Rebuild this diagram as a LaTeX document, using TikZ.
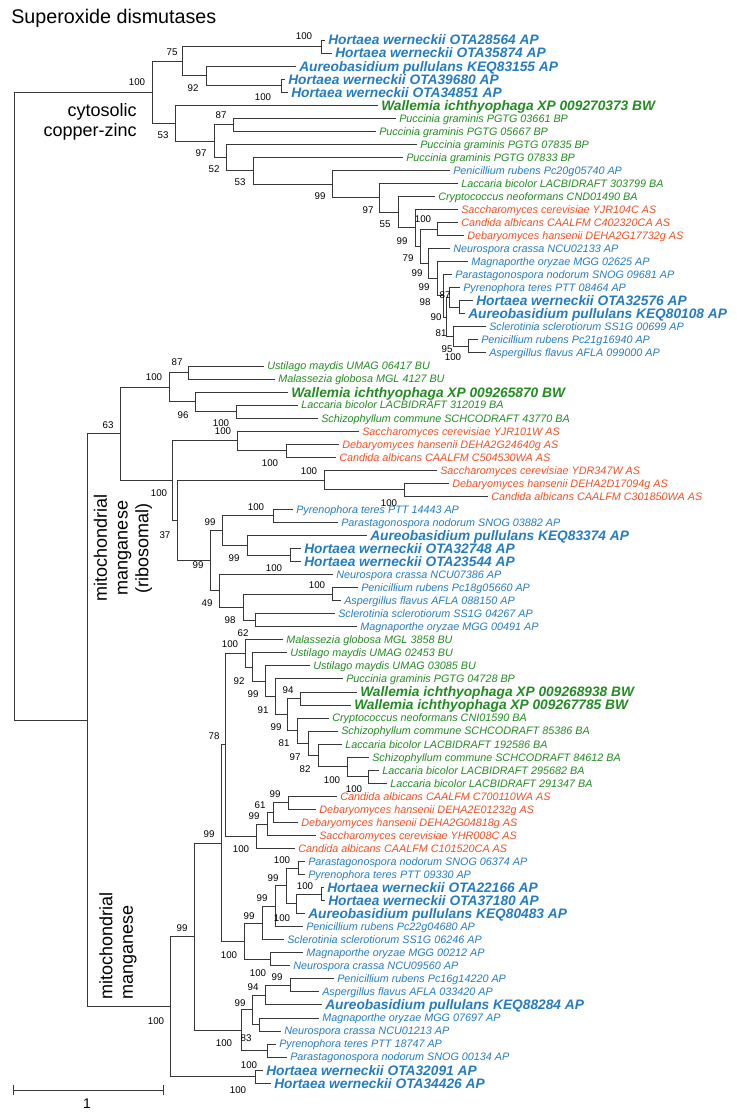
\documentclass[tikz,border=0pt]{standalone}
\usepackage{fontspec}
\setmainfont{Liberation Sans}
\usetikzlibrary{calc}
\definecolor{cb}{RGB}{36,124,192}
\definecolor{cg}{RGB}{34,139,34}
\definecolor{cr}{RGB}{238,80,36}
\definecolor{tl}{RGB}{55,55,55}
\tikzset{
 br/.style={draw=tl, line width=0.75pt, line cap=rect},
 lab/.style={anchor=west, inner sep=0pt, text depth=0pt},
 tB/.style={lab, text=cb, text height=5.8pt, font=\fontsize{8.1}{9}\selectfont\itshape},
 tBB/.style={lab, text=cb, text height=7.4pt, font=\fontsize{10.3}{11}\selectfont\bfseries\itshape},
 tG/.style={lab, text=cg, text height=5.8pt, font=\fontsize{8.1}{9}\selectfont\itshape},
 tGB/.style={lab, text=cg, text height=7.4pt, font=\fontsize{10.3}{11}\selectfont\bfseries\itshape},
 tR/.style={lab, text=cr, text height=5.8pt, font=\fontsize{8.1}{9}\selectfont\itshape},
 bsl/.style={inner sep=0pt, font=\fontsize{7.3}{8}\selectfont},
 side/.style={inner sep=0pt, font=\fontsize{13.5}{15.5}\selectfont}
}
\newcommand{\lf}[5]{\coordinate (#1) at (#3,{40+13.04*(#2-1)}); \node[#4] (#1t) at (#3+4,{40+13.04*(#2-1)}) {#5};}
\newcommand{\nd}[4]{\path let \p1=(#3), \p2=(#4) in coordinate (#1) at ({#2*0.75pt},{0.5*(\y1+\y2)}); \draw[br] (#1) |- (#3); \draw[br] (#1) |- (#4);}
\newcommand{\bt}[4]{\node[bsl] (#1) at (#2,#3) {#4};}
\begin{document}
\begin{tikzpicture}[x=0.75pt,y=-0.75pt]
\useasboundingbox (0,0) rectangle (737,1114);
\node[anchor=base west, inner sep=0pt, font=\fontsize{14.8}{16}\selectfont] (title) at (11,23) {Superoxide dismutases};
% leaves
\lf{L1}{1}{324}{tBB}{Hortaea werneckii OTA28564 AP}
\lf{L2}{2}{331}{tBB}{Hortaea werneckii OTA35874 AP}
\lf{L3}{3}{295}{tBB}{Aureobasidium pullulans KEQ83155 AP}
\lf{L4}{4}{284}{tBB}{Hortaea werneckii OTA39680 AP}
\lf{L5}{5}{287}{tBB}{Hortaea werneckii OTA34851 AP}
\lf{L6}{6}{377}{tGB}{Wallemia ichthyophaga XP 009270373 BW}
\lf{L7}{7}{395}{tG}{Puccinia graminis PGTG 03661 BP}
\lf{L8}{8}{375}{tG}{Puccinia graminis PGTG 05667 BP}
\lf{L9}{9}{416}{tG}{Puccinia graminis PGTG 07835 BP}
\lf{L10}{10}{402}{tG}{Puccinia graminis PGTG 07833 BP}
\lf{L11}{11}{449}{tB}{Penicillium rubens Pc20g05740 AP}
\lf{L12}{12}{457}{tG}{Laccaria bicolor LACBIDRAFT 303799 BA}
\lf{L13}{13}{434}{tG}{Cryptococcus neoformans CND01490 BA}
\lf{L14}{14}{457}{tR}{Saccharomyces cerevisiae YJR104C AS}
\lf{L15}{15}{457}{tR}{Candida albicans CAALFM C402320CA AS}
\lf{L16}{16}{463}{tR}{Debaryomyces hansenii DEHA2G17732g AS}
\lf{L17}{17}{449}{tB}{Neurospora crassa NCU02133 AP}
\lf{L18}{18}{467}{tB}{Magnaporthe oryzae MGG 02625 AP}
\lf{L19}{19}{451}{tB}{Parastagonospora nodorum SNOG 09681 AP}
\lf{L20}{20}{459}{tB}{Pyrenophora teres PTT 08464 AP}
\lf{L21}{21}{472}{tBB}{Hortaea werneckii OTA32576 AP}
\lf{L22}{22}{464}{tBB}{Aureobasidium pullulans KEQ80108 AP}
\lf{L23}{23}{485}{tB}{Sclerotinia sclerotiorum SS1G 00699 AP}
\lf{L24}{24}{477}{tB}{Penicillium rubens Pc21g16940 AP}
\lf{L25}{25}{485}{tB}{Aspergillus flavus AFLA 099000 AP}
\lf{L26}{26}{263}{tG}{Ustilago maydis UMAG 06417 BU}
\lf{L27}{27}{274}{tG}{Malassezia globosa MGL 4127 BU}
\lf{L28}{28}{287}{tGB}{Wallemia ichthyophaga XP 009265870 BW}
\lf{L29}{29}{297}{tG}{Laccaria bicolor LACBIDRAFT 312019 BA}
\lf{L30}{30}{317}{tG}{Schizophyllum commune SCHCODRAFT 43770 BA}
\lf{L31}{31}{358}{tR}{Saccharomyces cerevisiae YJR101W AS}
\lf{L32}{32}{338}{tR}{Debaryomyces hansenii DEHA2G24640g AS}
\lf{L33}{33}{335}{tR}{Candida albicans CAALFM C504530WA AS}
\lf{L34}{34}{436}{tR}{Saccharomyces cerevisiae YDR347W AS}
\lf{L35}{35}{448}{tR}{Debaryomyces hansenii DEHA2D17094g AS}
\lf{L36}{36}{487}{tR}{Candida albicans CAALFM C301850WA AS}
\lf{L37}{37}{292}{tB}{Pyrenophora teres PTT 14443 AP}
\lf{L38}{38}{337}{tB}{Parastagonospora nodorum SNOG 03882 AP}
\lf{L39}{39}{366}{tBB}{Aureobasidium pullulans KEQ83374 AP}
\lf{L40}{40}{300}{tBB}{Hortaea werneckii OTA32748 AP}
\lf{L41}{41}{300}{tBB}{Hortaea werneckii OTA23544 AP}
\lf{L42}{42}{332}{tB}{Neurospora crassa NCU07386 AP}
\lf{L43}{43}{357}{tB}{Penicillium rubens Pc18g05660 AP}
\lf{L44}{44}{340}{tB}{Aspergillus flavus AFLA 088150 AP}
\lf{L45}{45}{334}{tB}{Sclerotinia sclerotiorum SS1G 04267 AP}
\lf{L46}{46}{356}{tB}{Magnaporthe oryzae MGG 00491 AP}
\lf{L47}{47}{282}{tG}{Malassezia globosa MGL 3858 BU}
\lf{L48}{48}{286}{tG}{Ustilago maydis UMAG 02453 BU}
\lf{L49}{49}{309}{tG}{Ustilago maydis UMAG 03085 BU}
\lf{L50}{50}{342}{tG}{Puccinia graminis PGTG 04728 BP}
\lf{L51}{51}{356}{tGB}{Wallemia ichthyophaga XP 009268938 BW}
\lf{L52}{52}{350}{tGB}{Wallemia ichthyophaga XP 009267785 BW}
\lf{L53}{53}{328}{tG}{Cryptococcus neoformans CNI01590 BA}
\lf{L54}{54}{337}{tG}{Schizophyllum commune SCHCODRAFT 85386 BA}
\lf{L55}{55}{341}{tG}{Laccaria bicolor LACBIDRAFT 192586 BA}
\lf{L56}{56}{368}{tG}{Schizophyllum commune SCHCODRAFT 84612 BA}
\lf{L57}{57}{378}{tG}{Laccaria bicolor LACBIDRAFT 295682 BA}
\lf{L58}{58}{386}{tG}{Laccaria bicolor LACBIDRAFT 291347 BA}
\lf{L59}{59}{336}{tR}{Candida albicans CAALFM C700110WA AS}
\lf{L60}{60}{315}{tR}{Debaryomyces hansenii DEHA2E01232g AS}
\lf{L61}{61}{297}{tR}{Debaryomyces hansenii DEHA2G04818g AS}
\lf{L62}{62}{315}{tR}{Saccharomyces cerevisiae YHR008C AS}
\lf{L63}{63}{294}{tR}{Candida albicans CAALFM C101520CA AS}
\lf{L64}{64}{304}{tB}{Parastagonospora nodorum SNOG 06374 AP}
\lf{L65}{65}{304}{tB}{Pyrenophora teres PTT 09330 AP}
\lf{L66}{66}{323}{tBB}{Hortaea werneckii OTA22166 AP}
\lf{L67}{67}{324}{tBB}{Hortaea werneckii OTA37180 AP}
\lf{L68}{68}{304}{tBB}{Aureobasidium pullulans KEQ80483 AP}
\lf{L69}{69}{302}{tB}{Penicillium rubens Pc22g04680 AP}
\lf{L70}{70}{283}{tB}{Sclerotinia sclerotiorum SS1G 06246 AP}
\lf{L71}{71}{302}{tB}{Magnaporthe oryzae MGG 00212 AP}
\lf{L72}{72}{289}{tB}{Neurospora crassa NCU09560 AP}
\lf{L73}{73}{333}{tB}{Penicillium rubens Pc16g14220 AP}
\lf{L74}{74}{318}{tB}{Aspergillus flavus AFLA 033420 AP}
\lf{L75}{75}{321}{tBB}{Aureobasidium pullulans KEQ88284 AP}
\lf{L76}{76}{318}{tB}{Magnaporthe oryzae MGG 07697 AP}
\lf{L77}{77}{280}{tB}{Neurospora crassa NCU01213 AP}
\lf{L78}{78}{275}{tB}{Pyrenophora teres PTT 18747 AP}
\lf{L79}{79}{286}{tB}{Parastagonospora nodorum SNOG 00134 AP}
\lf{L80}{80}{262}{tBB}{Hortaea werneckii OTA32091 AP}
\lf{L81}{81}{270}{tBB}{Hortaea werneckii OTA34426 AP}
% cytosolic
\nd{a1}{321}{L1}{L2}
\nd{a2}{281}{L4}{L5}
\nd{a92}{206}{L3}{a2}
\nd{a75}{182.5}{a1}{a92}
\nd{a87}{233}{L7}{L8}
\nd{cHA}{459}{L21}{L22}
\nd{cPA}{468}{L24}{L25}
\nd{cA}{449}{L20}{cHA}
\nd{cB}{453}{L23}{cPA}
\nd{cC}{446}{cA}{cB}
\nd{cD}{443}{L19}{cC}
\nd{cE}{437}{L18}{cD}
\nd{cF}{428}{L17}{cE}
\nd{cCD}{437}{L15}{L16}
\nd{c79}{420}{cCD}{cF}
\nd{c99b}{415}{L14}{c79}
\nd{c55}{398}{L13}{c99b}
\nd{c97b}{379}{L12}{c55}
\nd{c99}{332}{L11}{c97b}
\nd{c53b}{253}{L10}{c99}
\nd{c52}{226}{L9}{c53b}
\nd{c97}{214}{a87}{c52}
\nd{c53}{175}{L6}{c97}
\nd{cyto}{152}{a75}{c53}
% ribosomal
\nd{r1}{188}{L26}{L27}
\nd{rLS}{236}{L29}{L30}
\nd{r96}{195}{L28}{rLS}
\nd{r100}{169}{r1}{r96}
\nd{rDC}{286}{L32}{L33}
\nd{rB}{237}{L31}{rDC}
\nd{rC2}{404}{L35}{L36}
\nd{rC}{324}{L34}{rC2}
\nd{rPP}{273}{L37}{L38}
\nd{rHH}{290}{L40}{L41}
\nd{rAH}{247}{L39}{rHH}
\nd{r99a}{222}{rPP}{rAH}
\nd{rPA}{332}{L43}{L44}
\nd{rSM}{255}{L45}{L46}
\nd{r98}{243}{rPA}{rSM}
\nd{r49}{219.5}{L42}{r98}
\nd{r99}{210}{r99a}{r49}
\nd{r37}{177}{rC}{r99}
\nd{r172}{172}{rB}{r37}
\nd{R}{120}{r100}{r172}
% manganese
\nd{mLL}{368}{L57}{L58}
\nd{m347}{347}{L56}{mLL}
\nd{m318}{318}{L55}{m347}
\nd{m308}{308}{L54}{m318}
\nd{m297}{297}{L53}{m308}
\nd{mW}{300}{L51}{L52}
\nd{m287}{287}{mW}{m297}
\nd{m275}{275}{L50}{m287}
\nd{m265}{265}{L49}{m275}
\nd{m252}{252}{L48}{m265}
\nd{m245}{245}{L47}{m252}
\nd{mCD}{288}{L59}{L60}
\nd{m61}{273}{mCD}{L61}
\nd{m99s}{267}{m61}{L62}
\nd{m100s}{256}{m99s}{L63}
\nd{m225}{225}{m245}{m100s}
\nd{mPP}{298}{L64}{L65}
\nd{mHH}{321}{L66}{L67}
\nd{mHA}{296}{mHH}{L68}
\nd{m99e}{286}{mPP}{mHA}
\nd{m99f}{275}{m99e}{L69}
\nd{m99g}{262}{m99f}{L70}
\nd{mMN}{270}{L71}{L72}
\nd{m100g}{244}{m99g}{mMN}
\nd{m78}{221}{m225}{m100g}
\nd{mPA2}{290}{L73}{L74}
\nd{m94}{265}{mPA2}{L75}
\nd{mMN2}{259}{L76}{L77}
\nd{m99h}{252}{m94}{mMN2}
\nd{mPyPa}{267}{L78}{L79}
\nd{m241}{241}{m99h}{mPyPa}
\nd{m194}{194}{m78}{m241}
\nd{mHw}{255}{L80}{L81}
\nd{m170}{170}{m194}{mHw}
\nd{N87}{87}{R}{m170}
\nd{root}{14}{cyto}{N87}
% bootstrap values
\bt{b1}{304}{36}{100}
\bt{b2}{172}{52}{75}
\bt{b3}{193}{88}{92}
\bt{b4}{137}{82}{100}
\bt{b5}{263}{97}{100}
\bt{b6}{163}{135}{53}
\bt{b7}{221}{115}{87}
\bt{b8}{201}{153}{97}
\bt{b9}{214}{169}{52}
\bt{b10}{240}{182}{53}
\bt{b11}{320}{196}{99}
\bt{b12}{368}{210}{97}
\bt{b13}{423}{219}{100}
\bt{b14}{385}{224}{55}
\bt{b15}{402}{241}{99}
\bt{b16}{408}{258}{79}
\bt{b17}{417}{273}{99}
\bt{b18}{424}{287}{99}
\bt{b19}{445}{295}{87}
\bt{b20}{425}{302}{98}
\bt{b21}{436}{317}{90}
\bt{b22}{441}{333}{81}
\bt{b23}{447}{349}{95}
\bt{b24}{453}{357}{100}
\bt{b25}{177}{362}{87}
\bt{b26}{154}{377}{100}
\bt{b27}{183}{415}{96}
\bt{b28}{221}{423}{100}
\bt{b29}{223}{431}{100}
\bt{b30}{270}{463}{100}
\bt{b31}{309}{471}{100}
\bt{b32}{159}{493}{100}
\bt{b33}{389}{503}{100}
\bt{b34}{256}{507}{100}
\bt{b35}{210}{522}{99}
\bt{b36}{165}{535}{37}
\bt{b37}{234}{558}{99}
\bt{b38}{198}{565}{99}
\bt{b39}{274}{568}{100}
\bt{b40}{317}{585}{100}
\bt{b41}{207}{603}{49}
\bt{b42}{230}{620}{98}
\bt{b43}{108}{425}{63}
\bt{b44}{243}{633}{62}
\bt{b45}{230}{644}{100}
\bt{b46}{239}{681}{92}
\bt{b47}{288}{690}{94}
\bt{b48}{253}{694}{99}
\bt{b49}{263}{710}{91}
\bt{b50}{276}{727}{99}
\bt{b51}{214}{736}{78}
\bt{b52}{284}{743}{81}
\bt{b53}{295}{757}{97}
\bt{b54}{305}{769}{82}
\bt{b55}{332}{780}{100}
\bt{b56}{354}{789}{100}
\bt{b57}{275}{794}{99}
\bt{b58}{260}{805}{61}
\bt{b59}{254}{816}{99}
\bt{b60}{209}{834}{99}
\bt{b61}{241}{849}{100}
\bt{b62}{282}{860}{100}
\bt{b63}{273}{878}{99}
\bt{b64}{305}{886}{100}
\bt{b65}{262}{898}{99}
\bt{b66}{249}{916}{99}
\bt{b67}{282}{918}{100}
\bt{b68}{182}{928}{99}
\bt{b69}{229}{955}{100}
\bt{b70}{258}{973}{100}
\bt{b71}{277}{977}{99}
\bt{b72}{253}{987}{94}
\bt{b73}{240}{1003}{99}
\bt{b74}{156}{1021}{100}
\bt{b75}{246}{1038}{83}
\bt{b76}{224}{1043}{100}
\bt{b77}{249}{1065}{100}
\bt{b78}{238}{1090}{100}
% clade labels
\node[side, anchor=east, align=right] (cyt) at (137,122) {cytosolic\\copper-zinc};
\node[side, rotate=90, align=center] (ribo) at (123,548) {mitochondrial\\manganese\\(ribosomal)};
\node[side, rotate=90, align=left] (mang) at (118,946) {mitochondrial\\manganese};
% scale bar
\coordinate (s1) at (13,1090);
\coordinate (s2) at (163,1090);
\draw[br, line cap=butt] (s1) -- (s2);
\draw[br, line cap=butt] ($(s1)+(0,-5)$) -- ($(s1)+(0,5)$);
\draw[br, line cap=butt] ($(s2)+(0,-5)$) -- ($(s2)+(0,5)$);
\node[inner sep=0pt, font=\fontsize{10.5}{12}\selectfont] (one) at (87,1104) {1};
\end{tikzpicture}
\end{document}
